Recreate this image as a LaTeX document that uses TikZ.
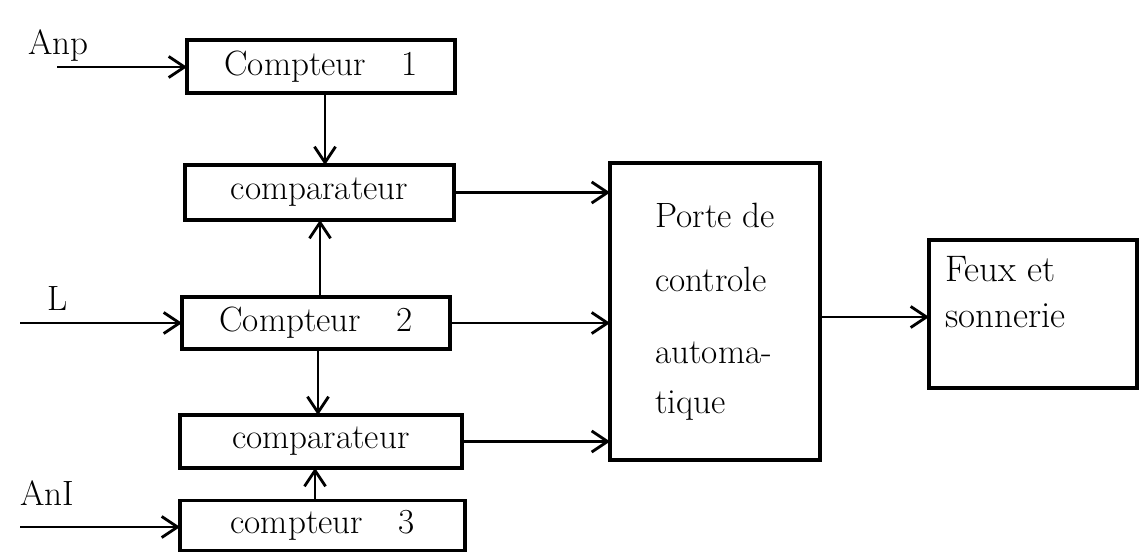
\documentclass[tikz,border=0pt]{standalone}
\usetikzlibrary{arrows.meta,calc}
\begin{document}
\begin{tikzpicture}[x=0.02cm,y=-0.02cm,
  every node/.style={font=\fontsize{20}{24}\selectfont},
  blk/.style={draw,line width=2pt,inner sep=0pt,outer sep=0pt},
  arr/.style={line width=1.6pt,-{Straight Barb[length=9pt,width=12pt,line width=1.6pt]}},
  lbl/.style={inner sep=0pt,anchor=west}]
\useasboundingbox (0,0) rectangle (1140,552);
% boxes
\node[blk,minimum width=5.36cm,minimum height=1.06cm] (c1) at (321,66.5) {Compteur\quad 1};
\node[blk,minimum width=5.38cm,minimum height=1.10cm] (cmp1) at (319.5,192.5) {comparateur};
\node[blk,minimum width=5.36cm,minimum height=1.04cm] (c2) at (316,323) {Compteur\quad 2};
\node[blk,minimum width=5.64cm,minimum height=1.06cm] (cmp2) at (321,441.5) {comparateur};
\node[blk,minimum width=5.70cm,minimum height=1.00cm] (c3) at (322.5,525.5) {compteur\quad 3};
\node[blk,minimum width=4.20cm,minimum height=5.94cm,align=left] (porte) at (715,311.5)
  {Porte de\\[0.45cm] controle\\[0.6cm] automa-\\[0.15cm] tique};
\node[blk,minimum width=4.16cm,minimum height=2.96cm] (feux) at (1033,314) {};
\node[lbl,align=left,anchor=north west,font=\fontsize{21}{26}\selectfont] (feuxt) at (945,256) {Feux et\\sonnerie};
% input labels
\node[lbl] (lanp) at (28,45) {Anp};
\node[lbl] (ll) at (47,298) {L};
\node[lbl] (lani) at (20,493) {AnI};
% inputs
\coordinate (ia) at (57,67);
\coordinate (il) at (20,323);
\coordinate (ii) at (20,527);
\draw[arr] (ia) -- (c1.west |- ia);
\draw[arr] (il) -- (c2.west |- il);
\draw[arr] (ii) -- (c3.west |- ii);
% vertical connections
\draw[arr] (c1.south -| 325,0) -- (cmp1.north -| 325,0);
\draw[arr] (c2.north -| 320,0) -- (cmp1.south -| 320,0);
\draw[arr] (c2.south -| 318,0) -- (cmp2.north -| 318,0);
\draw[arr] (c3.north -| 315,0) -- (cmp2.south -| 315,0);
% to porte
\draw[arr] (cmp1.east) -- (porte.west |- cmp1.east);
\draw[arr] (c2.east) -- (porte.west |- c2.east);
\draw[arr] (cmp2.east) -- (porte.west |- cmp2.east);
\draw[arr] (porte.east |- 0,317) -- (feux.west |- 0,317);
\end{tikzpicture}
\end{document}
